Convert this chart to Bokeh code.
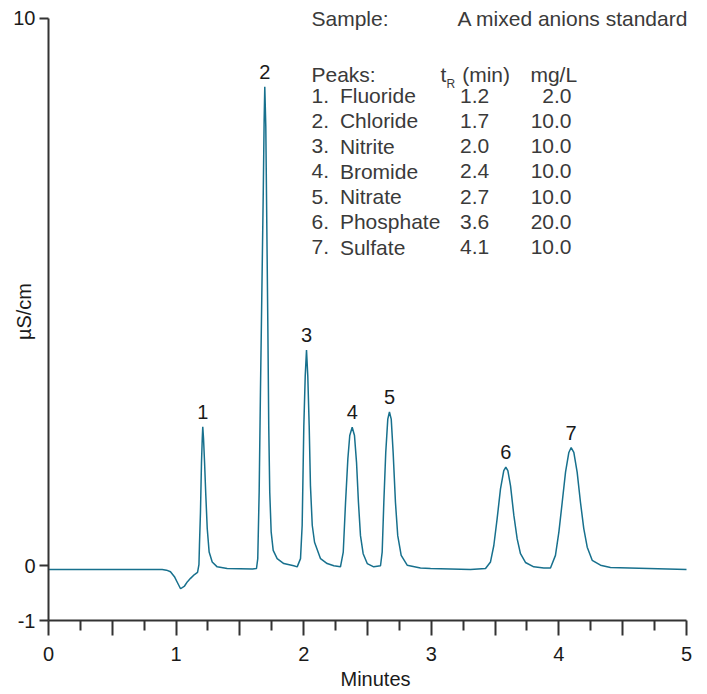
import math
from bokeh.plotting import figure
from bokeh.models import (Range1d, FixedTicker, Label, LabelSet, ColumnDataSource)
from bokeh.core.properties import value
from bokeh.embed import file_html
from bokeh.resources import INLINE

# ---------------- data ----------------
time_min = [
    0.000, 0.891, 0.925, 0.956, 0.987, 1.011, 1.035, 1.066, 1.089, 1.113,
    1.144, 1.168, 1.179, 1.183, 1.191, 1.199, 1.205, 1.209, 1.215, 1.223,
    1.233, 1.244, 1.259, 1.283, 1.322, 1.400, 1.600, 1.630, 1.640, 1.651,
    1.661, 1.672, 1.683, 1.690, 1.695, 1.703, 1.711, 1.719, 1.726, 1.734,
    1.745, 1.761, 1.792, 1.844, 1.922, 1.949, 1.975, 1.988, 2.001, 2.012,
    2.022, 2.032, 2.043, 2.053, 2.067, 2.085, 2.132, 2.184, 2.236, 2.288,
    2.310, 2.328, 2.346, 2.361, 2.380, 2.398, 2.414, 2.429, 2.445, 2.466,
    2.498, 2.549, 2.602, 2.615, 2.628, 2.643, 2.659, 2.672, 2.686, 2.701,
    2.719, 2.737, 2.764, 2.811, 2.915, 2.994, 3.307, 3.425, 3.464, 3.490,
    3.516, 3.542, 3.568, 3.584, 3.600, 3.621, 3.647, 3.673, 3.699, 3.738,
    3.803, 3.882, 3.934, 3.973, 4.000, 4.026, 4.052, 4.078, 4.096, 4.117,
    4.143, 4.169, 4.195, 4.222, 4.261, 4.326, 4.404, 5.000,
]
signal_uScm = [
    -0.07, -0.07, -0.08, -0.11, -0.20, -0.31, -0.42, -0.37, -0.29, -0.23,
    -0.16, -0.12, 0.02, 0.37, 0.98, 1.89, 2.32, 2.54, 2.32, 1.89,
    1.28, 0.68, 0.25, 0.07, -0.02, -0.05, -0.06, -0.05, 0.13, 1.35,
    3.17, 4.99, 6.81, 8.14, 8.75, 8.02, 6.20, 4.38, 2.56, 1.34,
    0.62, 0.28, 0.13, 0.04, 0.00, -0.02, 0.13, 0.74, 2.56, 3.47,
    3.94, 3.47, 2.56, 1.46, 0.74, 0.43, 0.13, 0.04, 0.00, -0.02,
    0.25, 1.16, 1.95, 2.38, 2.53, 2.38, 1.89, 1.16, 0.55, 0.22,
    0.04, -0.02, 0.00, 0.25, 1.16, 2.07, 2.68, 2.81, 2.68, 2.07,
    1.16, 0.55, 0.19, 0.01, -0.04, -0.05, -0.07, -0.05, 0.07, 0.37,
    0.86, 1.40, 1.74, 1.80, 1.74, 1.46, 0.92, 0.49, 0.22, 0.06,
    -0.02, -0.04, -0.04, 0.19, 0.62, 1.16, 1.71, 2.07, 2.16, 2.07,
    1.71, 1.16, 0.68, 0.34, 0.10, 0.01, -0.03, -0.07,
]

peak_ids = ["1", "2", "3", "4", "5", "6", "7"]
peak_times = [1.209, 1.695, 2.022, 2.380, 2.672, 3.584, 4.096]
peak_heights = [2.54, 8.75, 3.94, 2.53, 2.81, 1.80, 2.16]

peak_names = ["Fluoride", "Chloride", "Nitrite", "Bromide", "Nitrate", "Phosphate", "Sulfate"]
retention_min = ["1.2", "1.7", "2.0", "2.4", "2.7", "3.6", "4.1"]
conc_mg_L = ["2.0", "10.0", "10.0", "10.0", "10.0", "20.0", "10.0"]

x_ticks_major = [0, 0.5, 1, 1.5, 2, 2.5, 3, 3.5, 4, 4.5, 5]
x_ticks_minor = [0.25, 0.75, 1.25, 1.75, 2.25, 2.75, 3.25, 3.75, 4.25, 4.75]
y_ticks = [-1, 0, 10]

# ---------------- styling ----------------
FONT = "Liberation Sans"
FS = "20px"
FS_LEG = "21px"
LINE_COLOR = "#17708d"
AXIS_COLOR = "#333333"
TEXT_COLOR = "#1a1a1a"
LEGEND_COLOR = "#3a3a3a"

p = figure(width=702, height=692, output_backend="svg", toolbar_location=None,
           x_range=Range1d(0, 5.1254), y_range=Range1d(-1, 10.2913),
           min_border_left=48, min_border_right=0, min_border_top=2,
           min_border_bottom=70)
p.outline_line_color = None
p.xgrid.visible = False
p.ygrid.visible = False
p.background_fill_color = "white"

p.line(time_min, signal_uScm, line_color=LINE_COLOR, line_width=1.5)

# axes
xa = p.xaxis[0]
xa.bounds = (0, 5)
xa.ticker = FixedTicker(ticks=x_ticks_major, minor_ticks=x_ticks_minor)
xa.major_label_overrides = {t: ("" if t != int(t) else str(int(t))) for t in x_ticks_major}
xa.major_tick_in = 0
xa.major_tick_out = 15
xa.minor_tick_in = 0
xa.minor_tick_out = 10
xa.major_tick_line_width = 2
xa.minor_tick_line_width = 2
xa.major_tick_line_color = AXIS_COLOR
xa.minor_tick_line_color = AXIS_COLOR
xa.axis_line_width = 2
xa.axis_line_color = AXIS_COLOR
xa.major_label_standoff = 11
xa.major_label_text_font = FONT
xa.major_label_text_font_size = FS
xa.major_label_text_color = TEXT_COLOR
xa.axis_label = "Minutes"
xa.axis_label_standoff = 4
xa.axis_label_text_font = FONT
xa.axis_label_text_font_size = FS
xa.axis_label_text_font_style = "normal"
xa.axis_label_text_color = TEXT_COLOR

ya = p.yaxis[0]
ya.bounds = (-1, 10)
ya.ticker = FixedTicker(ticks=y_ticks, minor_ticks=[])
ya.major_label_overrides = {-1: "-1", 0: "0", 10: "10"}
ya.major_tick_in = 0
ya.major_tick_out = 9
ya.minor_tick_line_color = None
ya.major_tick_line_width = 2
ya.major_tick_line_color = AXIS_COLOR
ya.axis_line_width = 2
ya.axis_line_color = AXIS_COLOR
ya.major_label_standoff = 4
ya.major_label_text_font = FONT
ya.major_label_text_font_size = FS
ya.major_label_text_color = TEXT_COLOR
ya.axis_label = "µS/cm"
ya.axis_label_standoff = -25
ya.axis_label_text_font = FONT
ya.axis_label_text_font_size = FS
ya.axis_label_text_font_style = "normal"
ya.axis_label_text_color = TEXT_COLOR

# peak numbers
src = ColumnDataSource(dict(x=peak_times, y=peak_heights, t=peak_ids))
p.add_layout(LabelSet(x="x", y="y", text="t", source=src, y_offset=15,
                      text_align="center", text_baseline="middle",
                      text_font=value(FONT), text_font_size=value(FS),
                      text_color=TEXT_COLOR))

# legend block
def lab(x, y, text, align="left", size=FS_LEG):
    p.add_layout(Label(x=x, y=y, text=text, text_align=align, text_baseline="middle",
                       text_font=FONT, text_font_size=size, text_color=LEGEND_COLOR))

x_num, x_name, x_tr, x_mg_left, x_mg_right = 2.061, 2.284, 3.339, 3.777, 4.099
lab(x_num, 10.0, "Sample:")
lab(5.016, 10.0, "A mixed anions standard", align="right")
lab(x_num, 8.98, "Peaks:")
lab(3.072, 8.98, "t")
lab(3.119, 8.80, "R", size="12px")
lab(3.242, 8.98, "(min)")
lab(x_mg_left, 8.98, "mg/L")
row0, step = 8.588, 0.4614
for i, (nm, tr, c) in enumerate(zip(peak_names, retention_min, conc_mg_L)):
    yy = row0 - i * step
    lab(x_num, yy, f"{i + 1}.")
    lab(x_name, yy, nm)
    lab(x_tr, yy, tr, align="center")
    lab(x_mg_right, yy, c, align="right")

with open("out.html", "w", encoding="utf-8") as f:
    f.write(file_html(p, INLINE))
